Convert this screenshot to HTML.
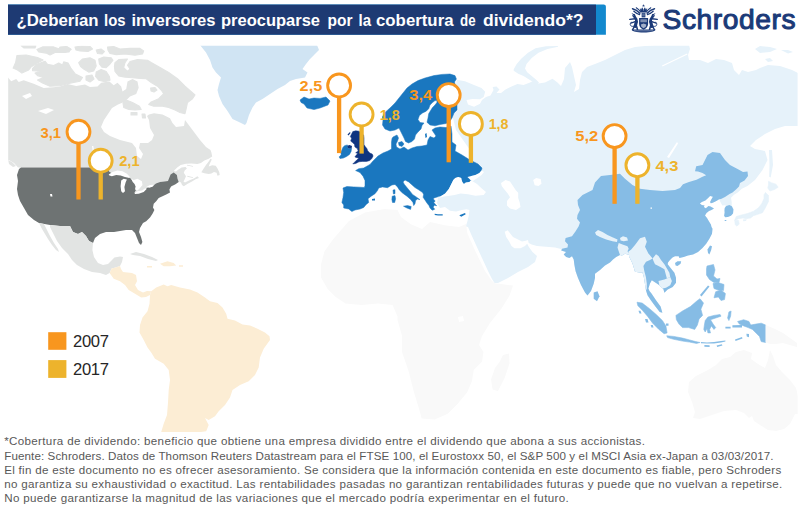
<!DOCTYPE html>
<html lang="es">
<head>
<meta charset="utf-8">
<title>¿Deberían los inversores preocuparse por la cobertura de dividendo*?</title>
<style>
html,body{margin:0;padding:0;background:#fff;}
body{width:800px;height:507px;overflow:hidden;position:relative;font-family:"Liberation Sans",sans-serif;}
svg{position:absolute;left:0;top:0;display:block;}
text{font-family:"Liberation Sans",sans-serif;}
.ml{font-size:15.4px;font-weight:bold;}
.ft{font-size:11.6px;fill:#585858;}
.ttl{font-size:17px;font-weight:bold;fill:#fff;}
.lg{font-size:16.6px;fill:#262626;}
.logo{font-size:28.2px;font-weight:normal;fill:#1b3a78;stroke:#1b3a78;stroke-width:1.05px;stroke-linejoin:round;}
</style>
</head>
<body>
<svg width="800" height="507" viewBox="0 0 800 507">
<defs>
<clipPath id="mapclip"><rect x="8.2" y="45.8" width="789.4" height="386.4"/></clipPath>
</defs>
<rect width="800" height="507" fill="#fff"/>
<g clip-path="url(#mapclip)">
<path fill="#e2e4e3" d="M8,77.5L11.2,81.2L16.2,79L18.7,81.9L23.7,80.2L33.7,83.7L43.7,88.1L53.7,87.2L60,86.5L67.5,84L76.2,85.9L85,84.6L90,87.1L97.5,86.5L101.2,82.7L109.4,81.5L113.7,85.2L117.5,82.7L121.2,86.5L122.5,91.5L126.2,89L127.5,81.5L132.5,79L137.5,81.5L138.7,87.7L136.2,94L130,96.5L127.5,99L124,102L118,104.5L112,108L108,114L104,120L101,127L104,132L110,136L120,140L132,143L136,148L137,156L141,159L143,154L139,148L140,143L148,143L152,140L154,135L150,128L149,120L147,116L149,114.5L154,113.2L162.5,114.5L170,118.2L172.5,123L176,127L184,126L185,120L188,124L194,132L200,140L206,147L210.5,150L211.4,152.6L212.2,156.6L208.7,158.7L204.4,160.5L200.9,163L197.4,164L191.2,163.6L186,163.8L180.7,164.9L177.2,167.5L173.7,171L176,171.5L178.1,169.7L181.6,167.5L185.6,167L186.9,168.5L184.7,170.5L183.8,172.7L186,176.2L184.7,179.3L183.5,181.5L185,182.4L189.5,180.2L193.9,178.4L197.4,176.2L199,178L195.6,179.3L192,181.5L187.7,183.7L183.8,186.3L182,185L181,182.5L179,181.5L176,184L171,187L168,181L160,182L155,185L150,186L146,188L146,190L143,194L134,194L132,185L130,180L109,176L109,167.5L18,167.5L14,163L9,160L8,160Z"/>
<path fill="#e2e4e3" stroke="#e2e4e3" stroke-width="1.1" stroke-linejoin="round" d="M16.9,55.6L26.2,55L37.5,57.5L43.1,60L37.5,63.1L31.2,66.9L28.7,70L21.9,73.1L17.5,70L13.1,68.1L15.6,62.5Z"/>
<path fill="#e2e4e3" stroke="#e2e4e3" stroke-width="1.1" stroke-linejoin="round" d="M32.5,68.7L36.2,64.4L45,61.2L47.5,64.4L53.7,65.6L58.7,63.1L62.5,65L63.7,61.9L68.1,63.1L71.2,68.7L75,73.7L82.5,77.5L80,81.2L70,83.1L60,85.6L50,86.2L42.5,83.1L37.5,80L43.7,77.5L37.5,75.6L35,73.1L41.2,71.2L32.5,70.6Z"/>
<path fill="#e2e4e3" stroke="#e2e4e3" stroke-width="1.1" stroke-linejoin="round" d="M36.9,49.4L42.5,46.9L53.7,46.9L58.7,48.7L67.5,46.9L71.2,49.4L65,52.5L55,52.5L50,55L46.2,53.1L38.7,51.9Z"/>
<path fill="#e2e4e3" stroke="#e2e4e3" stroke-width="1.1" stroke-linejoin="round" d="M21,45.6L36,45.6L35,48L24,48Z"/>
<path fill="#e2e4e3" stroke="#e2e4e3" stroke-width="1.1" stroke-linejoin="round" d="M107.5,47.1L113.7,46.5L120,49L130,48.4L140,48.4L143.7,50.9L142.5,54L135,55.2L125,54L116.2,54.6L110,53.4L108,50.2Z"/>
<path fill="#e2e4e3" stroke="#e2e4e3" stroke-width="1.1" stroke-linejoin="round" d="M75,47L82,46L90,46.5L92.5,49L88,51.5L80,51L76,50Z"/>
<path fill="#e2e4e3" stroke="#e2e4e3" stroke-width="1.1" stroke-linejoin="round" d="M96.2,50L101,49L104.4,51.5L102,54L97.5,53.5Z"/>
<path fill="#e2e4e3" stroke="#e2e4e3" stroke-width="1.1" stroke-linejoin="round" d="M60,47L66,46.5L70.6,49L69,52L62,52.5L58,51Z"/>
<path fill="#e2e4e3" stroke="#e2e4e3" stroke-width="1.1" stroke-linejoin="round" d="M78.7,62.7L82.5,59L90,57.7L95,60.2L96.2,65.9L93.7,70.9L88.7,72.1L83.7,69L80.6,66.5Z"/>
<path fill="#e2e4e3" stroke="#e2e4e3" stroke-width="1.1" stroke-linejoin="round" d="M98.7,59L103.7,57.1L111.2,57.7L113,60.2L110,64L106.2,67.7L101.9,67.1L99.4,64Z"/>
<path fill="#e2e4e3" stroke="#e2e4e3" stroke-width="1.1" stroke-linejoin="round" d="M96.2,72.1L101.2,69.6L106.2,71.5L109.4,76.5L110,80.2L105,81.8L98.7,80.2L95.6,76.5Z"/>
<path fill="#e2e4e3" stroke="#e2e4e3" stroke-width="1.1" stroke-linejoin="round" d="M86,76L92,75L94,79L90,82L86,80Z"/>
<path fill="#e2e4e3" stroke="#e2e4e3" stroke-width="1.1" stroke-linejoin="round" d="M115,62.7L118.7,59.6L127.5,59L125,62.7L123.7,67.7L127.5,71.5L130,69L127.5,65.2L130,61.5L137.5,59.6L147.5,60.2L151.2,62.5L160,67.5L168.7,72.5L177.5,78.7L185,86.2L195,95L192.5,98.7L187.5,102.5L186.2,108.7L185,113.7L180,112.5L175,110L168.7,107.5L162.5,106.2L153.7,106.2L148.7,104.4L151.2,101.9L158.7,98.7L163.7,93.7L161.2,90L157.5,86.2L151.2,82.5L146.2,78.7L140,78.4L132.5,77.7L125,77.1L118.7,75.9L115,71.5L114.4,66.5Z"/>
<path fill="#e2e4e3" stroke="#e2e4e3" stroke-width="1.1" stroke-linejoin="round" d="M123,103L126.2,100L132.5,102.5L139.4,106.2L141.2,109.4L135,110L128.7,109.4L123.7,107.5Z"/>
<path fill="#e2e4e3" stroke="#e2e4e3" stroke-width="1.1" stroke-linejoin="round" d="M131,112.5L137,112.5L137,115L131,115Z"/>
<path fill="#e2e4e3" stroke="#e2e4e3" stroke-width="1.1" stroke-linejoin="round" d="M142,114L145,114L145.5,118L142.5,118Z"/>
<path fill="#e2e4e3" stroke="#e2e4e3" stroke-width="1.1" stroke-linejoin="round" d="M150.6,88L155,87.5L157,90L154,92L151,91Z"/>
<path fill="#e2e4e3" d="M201.3,172.3L203.5,168.8L206,164.9L208.7,161.4L210.5,158.7L211.8,159.6L209.6,164L208.7,166.6L212.2,165.3L215.7,165.7L217.5,168.4L219.2,171.9L219.7,174.9L217.5,175.8L216.6,172.7L214,171.9L211.4,173.6L208.7,174L204.4,173.2Z"/>
<path fill="#e2e4e3" d="M8,160L12,162L16,166L13,167L9,164Z"/>
<path fill="#e2e4e3" d="M187,164.8L193,166L193,166.8L187,165.6Z"/>
<path fill="#e2e4e3" d="M187.3,175.8L193,177.2L193,178L187.3,176.8Z"/>
<path fill="#6e7373" d="M19,169L21,167.6L108,167.6L109,171.5L112,173.5L118,173L124,175.5L129.5,177.5L131.5,179.5L134,182L136,186L136,190L134.5,192.5L138,192.4L142,191.2L146,188.3L150,186.2L153.5,185.5L156,183.5L160,182L168,181L170.6,174.4L173.7,172.5L176.9,175L177.5,178.7L178.7,181.9L175,184.4L171.2,186.2L169.4,189.4L170,192.5L166.2,194.4L162.5,196.2L158.7,198L156.2,201.2L153.7,203.7L153,207.5L154.4,210L152.5,213.7L150,217.5L146.2,221.2L143,223L140,228L139,232L141,237L142.4,242L141,245L139,243L137,238L135,233L132,230L126,230L120,231L114,232L106,232L100,234L95,238L93,243L89,241L86,236L82,232L78,234L73,232L70,226L60,226L50,225L39,223L34,220L28,215L24,208L20,201L18,195L17,189L18,181L17,175Z"/>
<path fill="#e2e4e3" d="M50,225L60,226L70,226L73,232L78,234L82,232L86,236L89,241L93,243L92.4,250L94,257L98,263L103,265L108,264L112,260L114.4,257.6L120,256.6L123,257L122,262L120,266L115.6,267.4L111.6,268.6L109.6,273L106,275L100,273L92,272L84,269L77,265L72,260L68,254L62,248L57,241L53,233L50,227Z"/>
<path fill="#e2e4e3" d="M39,223L44,224L47,230L50,236L54,243L58,249L59,252L56,250L52,245L48,239L45,234L42,229Z"/>
<path fill="#e2e4e3" d="M130,254L136,252L144,254L152,257L158,260L156,261L148,259L140,256L133,255Z"/>
<path fill="#d0e4f3" d="M175,45L200,45L206,52.5L210,60L212.5,67.5L216,72.5L221,77.5L219,84L217.5,90L219,96L222.5,104L227.5,111L232.5,119L240,122.5L245,125L246.5,123L249,115L252.5,107.5L256,102.5L262.5,99L270,94L277.5,89L285,85L290,81L296,79L305,77.5L307.5,72.5L302.5,69L306,64L310,59L315,54L319,50L317,45Z"/>
<path fill="#fcedd4" d="M151.2,291.2L156.2,287.5L163.7,284.5L167.5,286.2L171.2,285L180,287.5L190,289.5L197.5,292.5L205,297.5L210,301.2L217.5,303L222.5,307.5L226.2,313.7L227.5,318.7L235,320.5L242.5,324.5L250,325.5L257.5,328.7L265,332.5L269.5,336.2L270,340L263.7,348.7L260,357.5L258.7,367.5L255,375L248.7,381.2L240,385L232.5,390L230,397.5L225,405L218.7,411.2L215,416.2L208.7,420L205,418L208.7,425L206.2,431.2L201,432L161.2,432L163.7,423.7L167,415L168,402.5L168.7,390L170,380L168.7,370L163.7,363.7L155,358.7L151.2,352.5L147.5,347.5L143.7,340L139.5,332.5L140,325L142.5,317.5L147.5,311.2L149.5,303.7L150,295Z"/>
<path fill="#fcedd4" d="M111.6,268.6L115.6,267.4L120,266L121,269L123,272L132,273L136,275L137,281.2L135,285L138,290L143,292.5L147,291L151.2,291.2L150,295L146,297L141.2,297.5L135,293.7L128.7,290L125,285L120,281.2L113.7,278.7L109.6,273Z"/>
<path fill="#fcedd4" d="M160,263.7L167.5,261.2L173.7,263L176.2,265.5L170,266.2L163.7,266.2Z"/>
<path fill="#fcedd4" d="M179,265.3L183,265.3L183,266.8L179,266.8Z"/>
<path fill="#fcedd4" d="M147,266L152,266L152,267.5L147,267.5Z"/>
<path fill="#e6f2fa" d="M456.7,79.7L465,81.2L474,85L481.5,88L485.2,91.7L483.7,97L480,99.2L472.5,99L466.5,100L468,104.5L474,106.7L480,103.7L482,100L486,97L490.5,95.5L493.5,90L492.7,87L496.5,86.5L499.5,89.5L496.5,93L501,93L505.5,89.5L511.5,86.5L517.5,84L523.5,85L529.5,82.7L534,80.5L538.5,83.5L545,82.5L552.5,78.7L557.5,82.5L561,86L564,79L565,68L570,62L572,67L574,76L576,85L574,92L579,89L580,80L582,72L587,67L595,64L605,60L615,55L625,50L635,47L645,46L655,45L670,45L689,45L690,49L688,55L689,60L700,60L708,63L716,59L724,60L732,63L734,70L739,75L742,70L748,72L756,70L760,68L768,65L780,66L792,70L798,73L798,126L785,126L775,129L765,134L756,140L750,146L755,149L765,151L767.5,160L762.5,170L755,180L747.5,186L741.8,188.7L737.7,192.5L734,194.7L731,197.7L731.7,202L731.7,205.2L733.7,209L733.2,213.5L730.2,215.7L726.5,217.2L724.2,215.7L724.2,211.2L725,207.5L725.7,205.2L722.3,205.5L721.5,204L720.4,202L719.2,199.2L716.8,200.8L714.4,202L712.1,203L710.7,203.3L710.1,202L711.3,199.6L712.9,196.8L710.1,196L708.1,198L705.4,200.4L701.8,202L699.9,203.5L701.8,205.1L704.6,205.5L703.8,207.1L705.8,208.3L708.5,205.9L710.5,206.5L714,208.5L711.5,210L709,211L706.5,213L705,215.4L707,218L708.9,221.3L710.9,224.4L711.5,227L712.5,228.7L712,233.7L709.4,238.7L706.2,243.7L702.5,248L698,252L693,254.4L688,255.6L683.7,257L679.4,258L678.7,256.2L675,256.2L672.5,257.5L670,260L668,262.5L667.7,264.3L671,268.5L674.4,272.7L676,277.7L676,282.7L672.7,287L667.7,289.4L664.4,292.8L663.5,289.4L662.7,288.6L659.3,285.2L656.8,283.6L651.8,280.2L650,283.6L648.4,288.6L649.5,291L651.5,293.5L656.2,300.5L660.6,306.6L662.4,312.7L659.7,311.9L655.4,306.6L651,300.5L647.5,295.2L646,290.5L644.8,283L643.8,277L642.5,272.4L641,272.7L635,271.8L632.5,263.5L629.2,256.8L630,255L625,253.7L622,255.6L620,255L616.2,257L613,259.4L610,262.5L605,265.6L600,270L595,273.7L595,278L593.7,283.7L591,291L587.5,295.5L585,292.5L581,285L578,278L575.6,271.2L574.4,265L573.7,259.4L572,256.2L569.4,258L566.2,256.9L563.7,254.4L566,252L561.2,250.6L562,248.7L561,249L555,247.5L546,246.7L537,246L531.7,244.5L528.7,243L528,240L525.7,240.7L522,241.5L517.5,239.2L513,237L510,233.2L507.7,230.2L504.7,231.7L506.2,237L509.2,241.5L511.5,246L514.5,248.2L520.5,248.2L525,246L527.2,243.7L528.7,246.7L532.5,252L537,256L535,262L528,267L518,272L508,278L498,283L494.5,283L492,279L488,271L482,258L476,245L471,234L468,227L465.7,226.5L467.2,222L468.7,216L469.5,210L466.5,209.2L462,210L456,211.5L450,210.7L445,207L440,208L437,203L438,198L442,196L448,194L452,186L460,176L470,170L470,150L456,130L452,114L455,100L456,85Z"/>
<path fill="#e6f2fa" d="M513.7,69.2L516.7,64L521.2,58.7L528,52.7L535.5,48.2L546,46.3L558,46L558,46.7L547.5,49L538.5,52.7L531.7,58L526.5,64L525,68.5L527.2,72.2L531.7,76L536.2,79.7L539.2,82.7L535.5,83.5L529.5,79.7L523.5,76L518.2,73.7L513.7,70.7Z"/>
<path fill="#e6f2fa" d="M755,49L760,46L770,47L777,49L770,52L760,53Z"/>
<path fill="#e6f2fa" d="M781,50L788,50L793,52L788,53.6Z"/>
<path fill="#e6f2fa" d="M765,59L770,58L773,61L768,62Z"/>
<path fill="#ffffff" d="M662,65.5L687,53.5L687.5,54.5L662.5,66.5Z"/>
<path fill="#e6f2fa" d="M769,150L772,150L773,165L771.5,173L770.7,177.5L769.2,176.7L769.5,165Z"/>
<path fill="#e6f2fa" stroke="#e6f2fa" stroke-width="0.6" stroke-linejoin="round" d="M768.5,181.2L771.5,182.7L776,184.2L778.2,187.2L774.5,189.5L770,191L767.7,188L768.5,185Z"/>
<path fill="#e6f2fa" stroke="#e6f2fa" stroke-width="0.6" stroke-linejoin="round" d="M765.5,192.5L768.5,195.5L768.5,201.5L765.5,207.5L762.5,212.7L758,214.2L753.5,215.7L750.5,218L746,218.7L743,218L738.5,218.7L734.7,220.2L736.2,216.5L741.5,215L747.5,213.5L753.5,211.2L758,208.2L761.7,203.7L764,198.5L764,194.7Z"/>
<path fill="#e6f2fa" stroke="#e6f2fa" stroke-width="0.6" stroke-linejoin="round" d="M734.7,220.2L738.5,220.2L739.2,224L737,226.2L735.2,224.7Z"/>
<path fill="#e6f2fa" d="M743,219.5L746.7,219.2L746,221L743.3,221.3Z"/>
<path fill="#1a77bf" stroke="#1a77bf" stroke-width="0.5" stroke-linejoin="round" d="M343,188L346.9,186.5L353.7,186.9L360,187.2L364.4,187.5L365,185.6L365,180.6L363,176.2L360,172.5L355.6,170.6L358.7,168.7L363.7,168L370,164.4L373,161L378,156L383,153L388,151L391.5,149L391.5,147L391.5,142L392,138.5L393,137L397,135L398.5,138L397.5,141L396,144L396.5,147L400,149L404,147L408,150L412,148L417,146.5L422,146L427,145L428,140L430,136.5L434,138L436,136L434,133L432,130L435,128L440,127L446,127.5L451,126L452,134L452,142L456,145L455,151L462,155L470,160L478,164L482,168L481.5,170L479.4,173L475.4,175L471.4,176L470.9,180.5L469.4,182L465.9,182.6L463.9,184L462.3,182L461.3,178L458.3,177L455.3,178L453.3,180L451.8,183L450.3,186L448.8,189L446.8,191.6L445.2,193.6L442.7,195L440.2,196.4L437.2,197L434.7,197.7L433.2,198.7L435.2,201.2L433.7,202.2L435.2,204.2L436.7,205.7L434.2,205.2L433.2,207.2L434.7,209.2L433.7,209.7L432.2,210.2L430.7,208.7L429.6,207.2L429.1,205.7L427.1,203.2L425.1,200.2L423.1,197.2L423.6,194.6L422.6,192.6L419,190L415,187.6L411,184L408.7,181.9L405,180L403,181.9L404.4,184.4L406.9,187.5L410,191.2L412.5,194.4L416.2,196.9L420,199.7L417.5,199L415.6,200.6L415,203.7L413.7,205.6L413,202.5L410.6,199.4L406.9,196.2L402.5,193L399.4,190L397.5,186.9L395,184.4L391.9,185L387.5,187.7L382.5,186.9L378.7,188L377.5,190.6L375,193.7L371.2,196.2L368,198.7L368.7,202.5L366.2,204.4L363.7,207.5L360,209L355,210L351.9,211.5L348.7,209L343.7,208L343.7,205L341.9,202.5L343,197.5L343.7,192.5Z"/>
<path fill="#1a77bf" stroke="#1a77bf" stroke-width="0.5" stroke-linejoin="round" d="M383,120L382.4,117L385,112.4L390,108L395,103L399,98L403,93L407,88L412,84L418,80.6L425,78L434,75.6L442,74.4L450,74L455,75.6L456.4,79L454.5,82L455.6,86L454.4,92L456,98L457,104L457,110L454,113L452,118L450,121L446.2,123.5L440,124.5L435,125.8L430,125L427,122.3L428,118L428.7,113.7L430.6,110.6L432.5,107.5L435,105L436.9,102.5L437,100.6L435,100.6L432.5,102.5L430,105L428.7,108.7L426.2,111.2L422.5,113L419.4,115.6L418,119.4L420,122.5L424,123L422,125.5L421,129L418,132L415.5,135L414.5,139L412,141.5L408.5,143L405.5,141.5L404,138L402,134L400,130L399,128L395,130L390,131L385,129L382.5,125Z"/>
<path fill="#1a77bf" stroke="#1a77bf" stroke-width="0.5" stroke-linejoin="round" d="M398.5,142.5L402,141.5L404,144L402,146.5L399,145.5Z"/>
<path fill="#1a77bf" d="M425,134L426.5,133L427,137L425.5,138Z"/>
<path fill="#1a77bf" stroke="#1a77bf" stroke-width="0.5" stroke-linejoin="round" d="M300,100L304,97L309,99L314,98L320,98.4L326,97L330,101L328,105L320,108L314,109.6L307,108L304,104L301,102.4Z"/>
<path fill="#1a77bf" stroke="#1a77bf" stroke-width="0.5" stroke-linejoin="round" d="M344.5,145.7L347.4,144.9L347.4,147.4L349.1,148.6L351.6,148.3L351.1,151.5L349.5,154.4L346.6,156.5L343.3,158.1L340,158.5L339.1,156.9L341.2,154.8L340.8,152.3L342,149.8L342.9,147.4Z"/>
<path fill="#1a77bf" stroke="#1a77bf" stroke-width="0.5" stroke-linejoin="round" d="M403.5,206.2L407.5,205.6L411.2,206.5L410.6,209.4L406.9,208Z"/>
<path fill="#1a77bf" stroke="#1a77bf" stroke-width="0.5" stroke-linejoin="round" d="M392.2,196.2L395,195.6L395.6,198.7L394.7,202.5L392.5,202.5L391.9,199.4Z"/>
<path fill="#1a77bf" stroke="#1a77bf" stroke-width="0.5" stroke-linejoin="round" d="M393,190L395,189.7L395,193.7L393.4,194Z"/>
<path fill="#1a77bf" d="M434.7,213.7L438,214.2L442.7,214.2L442.7,215.4L438,215.6L434.7,214.9Z"/>
<path fill="#1a77bf" d="M459.3,215.2L465,213L465.7,214.2L461.2,216.7Z"/>
<path fill="#1a77bf" d="M372,199L375,198.5L375,200.5L372,200.5Z"/>
<path fill="#0f3580" stroke="#0f3580" stroke-width="0.5" stroke-linejoin="round" d="M352.8,131.6L355.7,130.8L359,131.2L361.5,133.3L363.6,135L364,138.2L364,141.5L364,144.5L365.2,146.5L366.9,148.6L367.7,150.7L369.8,153.1L372.2,154L373.1,156L371.8,158.5L369.8,160.6L366.5,161.4L362.3,161.4L359,161.8L355.7,163.5L352.8,163.9L354.5,162.2L356.5,160.2L359,158.1L356.9,157.7L354.9,156.9L356.1,155.2L357.8,153.6L355.7,152.7L358.2,151.1L357.3,148.6L354.9,146.9L354.5,144.5L352.8,142.8L350.7,141.1L351.6,138.2L350.3,136.6L351.6,134.1Z"/>
<path fill="#0f3580" d="M347.5,134.5L350,132L350.5,133L348.5,135.5Z"/>
<path fill="#0f3580" d="M347.4,145.7L349.5,144.9L352,146.1L351.6,148.2L349.1,148.6L347.4,147.4Z"/>
<path fill="#86bce5" d="M577.5,200L582.5,195L592.5,190L595,182.5L601,176L610,175L620,173.7L625,178.7L632.5,185L640,188.7L650,190L662.5,191L675,190L680,188L683,184.2L689,182L696.5,179.7L702.5,176.7L706.2,175.2L702.5,173L698,171.5L695,171.2L696.2,166.2L702.5,165L707.5,155L712.5,152L720,153L725,160L730,165L738.5,169.5L743,172L747.5,171.5L748,176L744.5,180.5L740,183L739,186.5L736,189.5L732.5,192.5L729.5,194L725,197L721,199L719.2,199.2L716.8,200.8L714.4,202L712.1,203L710.7,203.3L710.1,202L711.3,199.6L712.9,196.8L710.1,196L708.1,198L705.4,200.4L701.8,202L699.9,203.5L701.8,205.1L704.6,205.5L703.8,207.1L705.8,208.3L708.5,205.9L710.5,206.5L714,208.5L711.5,210L709,211L706.5,213L705,215.4L707,218L708.9,221.3L710.9,224.4L711.5,227L712.5,228.7L712,233.7L709.4,238.7L706.2,243.7L702.5,248L698,252L693,254.4L688,255.6L683.7,257L679.4,258L678.7,256.2L675,256.2L672.5,257.5L670,260L668,262.5L667.7,264.3L671,268.5L674.4,272.7L676,277.7L676,282.7L672.7,287L667.7,289.4L664.4,292.8L663.5,289.4L662.7,288.6L659.3,285.2L656.8,283.6L651.8,280.2L650,283.6L648.4,288.6L649.5,291L651.5,293.5L656.2,300.5L660.6,306.6L662.4,312.7L659.7,311.9L655.4,306.6L651,300.5L647.5,295.2L646,290.5L644.8,283L643.8,277L642.5,272.4L641,272.7L635,271.8L632.5,263.5L629.2,256.8L630,255L625,253.7L622,255.6L620,255L616.2,257L613,259.4L610,262.5L605,265.6L600,270L595,273.7L595,278L593.7,283.7L591,291L587.5,295.5L585,292.5L581,285L578,278L575.6,271.2L574.4,265L573.7,259.4L572,256.2L569.4,258L566.2,256.9L563.7,254.4L566,252L561.2,250.6L562,248.7L567.5,247.5L568,244.4L565,241.2L565.6,238L572,236.2L575.6,231.2L578.7,226.2L580,222.5L577,218.7L577.5,215L580,210L578,205Z"/>
<path fill="#e6f2fa" d="M635,245L640,238.3L645,236.7L646.8,241.7L645,246.7L648.4,253.4L652.6,258.4L650,260L646,261.8L643.4,266L644.3,271L645.9,276.9L646.8,283.6L646.8,288.6L646,290.5L644.8,283L643.8,277L642.5,272.4L641,272.7L635,271.8L632.5,263.5L629.2,256.8L628.3,251.7L631.2,249.4Z"/>
<path fill="#e6f2fa" d="M652.6,258.4L656,254.3L658.5,256L661,260L664.4,264.3L666.9,268.5L669.4,272.7L670.2,276.9L666.9,278.5L666,275.2L664.4,269.3L660,266.8L655,264.3L653.5,261Z"/>
<path fill="#e6f2fa" d="M658.5,281L664.4,279.4L666.9,278.5L670.2,276.9L671.9,281L670.2,285.2L666,287.8L662.7,288.6L659.3,285.2Z"/>
<path fill="#e6f2fa" d="M618.7,243L622.5,244.4L627.5,246.2L628.7,248.7L627.5,251.2L630,255L625,253.7L622,255.6L620,255L618.7,251.2L617.5,247.5Z"/>
<path fill="#e6f2fa" d="M595,232.5L598,230L602.5,232L607.5,235L613,237.5L617.5,239.4L617,242L612.5,241.2L606.2,239.4L600,237L596.2,235Z"/>
<path fill="#e6f2fa" d="M620,238L623,236.2L627,237.5L628,240.6L623.7,241.2L620.6,240.6Z"/>
<path fill="#86bce5" d="M724.7,207.9L726.3,205.9L729.4,205.1L731.8,206.3L733.4,209.4L733,213.4L731,215.8L727.9,216.9L725.1,217.3L724.1,215.8L724.7,212.6L724.5,210.2Z"/>
<path fill="#86bce5" d="M724.7,220L726.3,220L726.3,221L724.7,221Z"/>
<path fill="#ffffff" d="M650.5,207.5L652,207.5L652,208.7L650.5,208.7Z"/>
<path fill="#86bce5" d="M707.5,249.4L710,245.6L712,246.2L711.2,250L709.4,254.4L708,253Z"/>
<path fill="#86bce5" d="M675,263L677.5,261.2L681.2,261.2L680.6,263.7L677.5,266L675.6,265.6Z"/>
<path fill="#86bce5" d="M593.7,292.5L597.5,291.2L599.5,296.2L597,301.2L593.7,298.7Z"/>
<path fill="#86bce5" stroke="#86bce5" stroke-width="0.6" stroke-linejoin="round" d="M637,302.2L642.2,303.1L649.2,308.4L656.2,314.5L662.4,320.6L665.9,325.9L667.1,332.9L664.1,333.7L658.9,329.4L652.7,323.2L647.5,316.2L642.2,310.1L637.9,305.7Z"/>
<path fill="#86bce5" stroke="#86bce5" stroke-width="0.6" stroke-linejoin="round" d="M666.7,335.8L673.7,336.4L682.5,338.1L689.5,339.9L695.6,341.6L700,342.5L696.5,343.4L689.5,342.1L682.5,341.1L673.7,339.3L667.6,337.6Z"/>
<path fill="#86bce5" d="M700.9,342.1L707,342.5L714,342.1L721,341.1L725.4,340.4L725.4,341.6L721,342.5L714,343.4L707,343.6L700.9,343.2Z"/>
<path fill="#86bce5" d="M704.4,345.1L709.6,345.3L709.6,346.9L704.4,346.7Z"/>
<path fill="#86bce5" d="M716.6,345.6L721.9,344.2L722.4,345.6L717.2,346.9Z"/>
<path fill="#86bce5" stroke="#86bce5" stroke-width="0.6" stroke-linejoin="round" d="M675.9,315.4L682.5,311L690.4,306.6L697.4,300.5L700,298.7L703.5,303.1L700.9,309.2L702.6,315.4L699.1,318.9L697.4,325L694.7,329.4L688.6,327.6L682.5,327.6L679,324.1L676.4,319.7Z"/>
<path fill="#86bce5" stroke="#86bce5" stroke-width="0.6" stroke-linejoin="round" d="M704.4,325L705.2,320.6L707.9,317.1L714,315.4L720.1,314.5L721,316.2L715.7,318L710.5,319.7L713.1,324.1L715.7,327.6L714,329.4L711.4,325.9L709.6,329.4L710.5,332.9L707.9,332.9L707,328.5L705.2,332L703.8,329.4Z"/>
<path fill="#86bce5" stroke="#86bce5" stroke-width="0.6" stroke-linejoin="round" d="M707,266L713.5,264.5L715,270L713.5,276L717,279L720,278.5L719,282.5L714,282.5L709.5,279.5L706.5,275L706.5,269Z"/>
<path fill="#86bce5" stroke="#86bce5" stroke-width="0.6" stroke-linejoin="round" d="M713,283.5L718,282.5L724,284.5L723.5,290.5L718,290L714,288.5Z"/>
<path fill="#86bce5" stroke="#86bce5" stroke-width="0.6" stroke-linejoin="round" d="M715.7,291.7L721,290L725.4,293.5L724.5,299.6L721,300.5L718.4,297L714,297.8Z"/>
<path fill="#86bce5" d="M700,295L708,285.5L709.5,286.5L701.5,296.5Z"/>
<path fill="#86bce5" stroke="#86bce5" stroke-width="0.6" stroke-linejoin="round" d="M728.9,311.9L731.1,311L730.6,316.2L728.9,320.6L727.6,318L728.4,314.5Z"/>
<path fill="#86bce5" d="M732.4,325.2L742,325L742,327.4L732.4,327.6Z"/>
<path fill="#86bce5" d="M735,339.5L742,337L742.5,338.5L735.5,341Z"/>
<path fill="#86bce5" d="M725.4,326.7L730.6,326.7L730.6,328.5L725.4,328.5Z"/>
<path fill="#86bce5" d="M746.4,333.7L749,334L749,337.2L746.8,336.5Z"/>
<path fill="#86bce5" d="M666,323.4L668.5,323.4L668.5,325.8L666,325.8Z"/>
<path fill="#86bce5" d="M638.5,310.7L640.5,310.7L641.5,313.6L639.5,313.6Z"/>
<path fill="#86bce5" d="M645,319L647.5,319L648.5,322.4L646,322.4Z"/>
<path fill="#86bce5" d="M650.7,325L652.8,325L653.5,327.6L651.4,327.6Z"/>
<path fill="#86bce5" stroke="#86bce5" stroke-width="0.6" stroke-linejoin="round" d="M737.6,321.5L743.7,319.7L749,321.5L750.7,325L756,324.1L761.2,323.2L765.6,325L765.6,342.5L761.2,341.6L759.5,336.4L756,332.9L752.5,329.4L748.1,327.6L743.7,325.9L739.4,324.1Z"/>
<path fill="#f9f9f9" d="M765.6,325L775,329L783,333L790,338L797,343L797,347L790,345L783,343L776,344L770,344L765.6,342.5Z"/>
<path fill="#f9f9f9" d="M342,229L349,221L365,212.5L384.5,209L397.5,210L401,217L410.5,224L422,229L430,222L446,225.5L459,227L466,224L467.4,233.6L475.5,251.5L485,271L492,281L495,283.3L513,285.6L509.6,295.4L501.5,308.4L490,323L482,336L479,345L483.5,352L482,361.7L473.7,370L472,381L467,392.6L457.5,404L447.7,413.7L434.7,419.6L421.7,418.6L418.5,407L413.6,391L408.7,371.5L402,352L402,335.7L397.4,319.5L397.5,316.5L392.6,305L378,303.5L361.7,305L345.5,303.5L335.7,297L327.6,289L321,277.5L321,264.5L324.4,251.5L332.5,240Z"/>
<path fill="#f9f9f9" d="M503,355L509,353.6L509.5,363.4L504.6,378L498,391L492.6,389.4L491,379.6L495,368L499.7,361.7Z"/>
<path fill="#f9f9f9" d="M689,382L696,376L708,370L716,365L722,359L730,357L736,352L744,350L752,353L751,359L758,364L765,368L768,360L770,350L773,356L776,365L782,372L790,380L796,388L798,396L798,414L795,414L790,424L784,429L776,431L768,430L760,425L754,421L752,416L749,418L744,413L736,410L724,411L712,415L700,419L693,418L695,412L692,402L688,392Z"/>
<path fill="#ffffff" d="M501,183L505.5,180L510,181.5L513,186L516,190.5L518.2,192.7L518.2,198L519.7,202.5L520.5,207L516,210L510,208.5L507,205.5L507,201L510,197.2L507.7,193.5L504,189L501.7,186Z"/>
<path fill="#ffffff" d="M437.2,197L440.2,196.4L442.7,195L445.2,193.6L446.8,191.6L448.8,189L450.3,186L451.8,183L453.3,180L455.3,178L458.3,177L461.3,178L461.3,179L462.3,182L463.9,184L465.9,182.6L469.4,182L470.9,180.5L473,181.5L477,184L481.5,188.2L486,192L483.7,195L475.5,195.7L468,194.2L460.5,193.5L454.5,195L448,196L444,196.5L440,197.5Z"/>
<path fill="#ffffff" d="M467.4,177L471.4,176L475.4,175L479.4,173L481.5,170.5L484,172L481.5,175L477.4,178L473,181L470.9,180.5L469,178.5Z"/>
<path fill="#ffffff" d="M667,157L677,142L678,143.5L669,158Z"/>
<path fill="#ffffff" d="M533.2,180L536.2,178L540.7,179L541.5,183.7L538.5,186L534.7,185.2Z"/>
<path fill="#ffffff" d="M108.7,174.4L112.5,171.9L117.5,170.6L122.5,171.2L126.9,173.7L130,176.9L129.4,178L125,176.9L120.6,175.6L116.2,175L111.9,176.2L109.4,175.6Z"/>
<path fill="#ffffff" d="M121.2,180.6L123.7,178.7L126.9,179.4L125.6,182.5L124.4,186.9L125,191.2L123,193L121.2,191.2L120.6,186.2Z"/>
<path fill="#ffffff" d="M131.2,178.7L133.7,180L137.5,178.7L141.9,181.2L142.5,185L140,188L137.5,190.6L135,189.4L135.6,186.2L134.4,183.7L132.7,181.9Z"/>
<path fill="#ffffff" d="M134.4,192.7L137.5,191.2L141.9,190.6L145.6,188L146.9,188.7L143.7,191.9L138.7,193.7L135,194Z"/>
<path fill="#ffffff" d="M146.2,186.9L150,185L153.7,184.7L153,186.5L149.4,187.7Z"/>
<path fill="#ffffff" d="M22,96L30,93L32,96L26,99Z"/>
<path fill="#ffffff" d="M38,111L48,108L54,110L46,114Z"/>
<path fill="#ffffff" d="M92,146L93.3,146L94.3,152L93,152.5Z"/>
<path fill="#ffffff" d="M50,194L52,194L52.5,196.5L50.5,196.5Z"/>
<path fill="#ffffff" d="M458,317L463,316L464,321L459,322Z"/>
</g>
<!-- title bar -->
<path d="M8,4.6H603.7a2.2,2.2 0 0 1 2.2,2.2V34.7H8Z" fill="#1389ce"/>
<rect x="8" y="4.6" width="588" height="30.1" fill="#1e3a73"/>
<text x="16.50" y="26.3" textLength="82.00" lengthAdjust="spacingAndGlyphs" class="ttl">¿Deberían</text><text x="104.00" y="26.3" textLength="21.57" lengthAdjust="spacingAndGlyphs" class="ttl">los</text><text x="131.50" y="26.3" textLength="84.00" lengthAdjust="spacingAndGlyphs" class="ttl">inversores</text><text x="221.00" y="26.3" textLength="99.00" lengthAdjust="spacingAndGlyphs" class="ttl">preocuparse</text><text x="327.50" y="26.3" textLength="25.00" lengthAdjust="spacingAndGlyphs" class="ttl">por</text><text x="358.50" y="26.3" textLength="12.54" lengthAdjust="spacingAndGlyphs" class="ttl">la</text><text x="376.00" y="26.3" textLength="77.53" lengthAdjust="spacingAndGlyphs" class="ttl">cobertura</text><text x="460.00" y="26.3" textLength="15.53" lengthAdjust="spacingAndGlyphs" class="ttl">de</text><text x="483.00" y="26.3" textLength="100.50" lengthAdjust="spacingAndGlyphs" class="ttl">dividendo*?</text>
<!-- logo -->
<g transform="translate(622,0) scale(0.07496)" fill="#1b3a78" stroke="none">
<!-- star + crown -->
<path d="M287,54 L292,69 L307,69 L295,78 L300,93 L287,84 L274,93 L279,78 L267,69 L282,69Z"/>
<path d="M238,102 L254,130 L268,98 L287,126 L306,98 L320,130 L336,102 L328,166 L246,166Z"/>
<path d="M262,172 H312 V232 H262Z"/>
<!-- mantling (feathered) -->
<g fill="none" stroke="#1b3a78" stroke-linecap="round">
<path d="M238,176 C214,150 186,128 140,116" stroke-width="19"/>
<path d="M236,196 C208,188 182,172 158,150" stroke-width="16"/>
<path d="M246,158 C232,134 214,118 190,104" stroke-width="14"/>
<path d="M336,176 C360,150 388,128 434,116" stroke-width="19"/>
<path d="M338,196 C366,188 392,172 416,150" stroke-width="16"/>
<path d="M328,158 C342,134 360,118 384,104" stroke-width="14"/>
</g>
<!-- supporters -->
<g>
<ellipse cx="158" cy="206" rx="20" ry="21"/>
<path d="M140,190 l-14,-14 l22,4Z"/>
<g fill="none" stroke="#1b3a78" stroke-linecap="round">
<path d="M168,224 C186,244 196,262 194,290" stroke-width="36"/>
<path d="M190,290 C188,316 180,334 176,352" stroke-width="42"/>
<path d="M172,250 L104,258" stroke-width="19"/>
<path d="M176,288 L118,308" stroke-width="17"/>
<path d="M194,348 L206,394" stroke-width="21"/>
<path d="M166,352 L142,394" stroke-width="19"/>
<path d="M158,350 C112,366 92,318 124,298" stroke-width="12"/>
</g>
</g>
<g transform="translate(574,0) scale(-1,1)">
<ellipse cx="158" cy="206" rx="20" ry="21"/>
<path d="M140,190 l-14,-14 l22,4Z"/>
<g fill="none" stroke="#1b3a78" stroke-linecap="round">
<path d="M168,224 C186,244 196,262 194,290" stroke-width="36"/>
<path d="M190,290 C188,316 180,334 176,352" stroke-width="42"/>
<path d="M172,250 L104,258" stroke-width="19"/>
<path d="M176,288 L118,308" stroke-width="17"/>
<path d="M194,348 L206,394" stroke-width="21"/>
<path d="M166,352 L142,394" stroke-width="19"/>
<path d="M158,350 C112,366 92,318 124,298" stroke-width="12"/>
</g>
</g>
<!-- shield -->
<path d="M228,240 H348 V318 C348,358 320,384 288,396 C256,384 228,358 228,318Z"/>
<!-- base -->
<path d="M128,394 H448 C444,420 384,434 288,434 C192,434 132,420 128,394Z"/>
<!-- light details -->
<g fill="#fff">
<path d="M246,258 H330 V296 H246Z" opacity="0.55"/>
<path d="M254,260 v34 M266,260 v34 M278,260 v34 M290,260 v34 M302,260 v34 M314,260 v34" stroke="#1b3a78" stroke-width="5" opacity="0.5"/>
<path d="M252,326 L288,312 L324,326 L318,356 L288,378 L258,356Z" opacity="0.6"/>
<path d="M282,102 h10 v40 h-10Z" opacity="0.5"/>
<path d="M160,408 H416 v8 H160Z" opacity="0.6"/>
<path d="M270,182 h34 v12 h-34Z" opacity="0.5"/>
<path d="M270,206 h34 v10 h-34Z" opacity="0.5"/>
<circle cx="154" cy="204" r="5" opacity="0.7"/>
<circle cx="420" cy="204" r="5" opacity="0.7"/>
</g>
</g>

<text x="662.6" y="29.2" textLength="133" lengthAdjust="spacing" class="logo">Schroders</text>
<!-- markers -->
<rect x="76.35" y="131.75" width="4.3" height="67.75" fill="#f8961e"/>
<circle cx="78.5" cy="131.75" r="11.45" fill="#fff" stroke="#f8961e" stroke-width="2.9"/>
<text id="ml0" x="40.40" y="137.7" textLength="20.60" lengthAdjust="spacingAndGlyphs" fill="#f8961e" class="ml">3,1</text>
<rect x="98.55" y="160.75" width="4.3" height="38.75" fill="#edb32c"/>
<circle cx="100.7" cy="160.75" r="11.45" fill="#fff" stroke="#edb32c" stroke-width="2.9"/>
<text id="ml1" x="119.20" y="165.8" textLength="20.40" lengthAdjust="spacingAndGlyphs" fill="#edb32c" class="ml">2,1</text>
<rect x="336.95" y="85.4" width="4.3" height="67.7" fill="#f8961e"/>
<circle cx="339.1" cy="85.4" r="11.45" fill="#fff" stroke="#f8961e" stroke-width="2.9"/>
<text id="ml2" x="299.60" y="90.8" textLength="22.60" lengthAdjust="spacingAndGlyphs" fill="#f8961e" class="ml">2,5</text>
<rect x="359.45" y="114.5" width="4.3" height="39.1" fill="#edb32c"/>
<circle cx="361.6" cy="114.5" r="11.45" fill="#fff" stroke="#edb32c" stroke-width="2.9"/>
<text id="ml3" x="379.70" y="119.7" textLength="20.00" lengthAdjust="spacingAndGlyphs" fill="#edb32c" class="ml">1,8</text>
<rect x="446.55" y="95.1" width="4.3" height="67.2" fill="#f8961e"/>
<circle cx="448.7" cy="95.1" r="11.45" fill="#fff" stroke="#f8961e" stroke-width="2.9"/>
<text id="ml4" x="409.30" y="100.2" textLength="23.00" lengthAdjust="spacingAndGlyphs" fill="#f8961e" class="ml">3,4</text>
<rect x="468.75" y="123.9" width="4.3" height="38.9" fill="#edb32c"/>
<circle cx="470.9" cy="123.9" r="11.45" fill="#fff" stroke="#edb32c" stroke-width="2.9"/>
<text id="ml5" x="488.70" y="129" textLength="19.80" lengthAdjust="spacingAndGlyphs" fill="#edb32c" class="ml">1,8</text>
<rect x="612.45" y="136.05" width="4.3" height="67.75" fill="#f8961e"/>
<circle cx="614.6" cy="136.05" r="11.45" fill="#fff" stroke="#f8961e" stroke-width="2.9"/>
<text id="ml6" x="575.30" y="141.4" textLength="23.00" lengthAdjust="spacingAndGlyphs" fill="#f8961e" class="ml">5,2</text>
<rect x="635.25" y="165.2" width="4.3" height="38.6" fill="#edb32c"/>
<circle cx="637.4" cy="165.2" r="11.45" fill="#fff" stroke="#edb32c" stroke-width="2.9"/>
<text id="ml7" x="655.40" y="171" textLength="23.00" lengthAdjust="spacingAndGlyphs" fill="#edb32c" class="ml">4,3</text>
<!-- legend -->
<rect x="48.2" y="332.2" width="18.2" height="17.6" fill="#f8961e"/>
<rect x="48.2" y="360.1" width="18.2" height="17.8" fill="#edb32c"/>
<text x="73" y="347.1" textLength="36" lengthAdjust="spacing" class="lg">2007</text>
<text x="73" y="374.9" textLength="36" lengthAdjust="spacing" class="lg">2017</text>
<!-- footer -->
<text x="4.2" y="445.3" textLength="640.7" lengthAdjust="spacing" class="ft">*Cobertura de dividendo: beneficio que obtiene una empresa dividido entre el dividendo que abona a sus accionistas.</text>
<text x="4.2" y="459.6" textLength="769.4" lengthAdjust="spacing" class="ft">Fuente: Schroders. Datos de Thomson Reuters Datastream para el FTSE 100, el Eurostoxx 50, el S&amp;P 500 y el MSCI Asia ex-Japan a 03/03/2017.</text>
<text x="4.2" y="473.8" textLength="777.1" lengthAdjust="spacing" class="ft">El fin de este documento no es ofrecer asesoramiento. Se considera que la información contenida en este documento es fiable, pero Schroders</text>
<text x="4.2" y="488" textLength="778.1" lengthAdjust="spacing" class="ft">no garantiza su exhaustividad o exactitud. Las rentabilidades pasadas no garantizan rentabilidades futuras y puede que no vuelvan a repetirse.</text>
<text x="4.2" y="502.2" textLength="564.5" lengthAdjust="spacing" class="ft">No puede garantizarse la magnitud de las variaciones que el mercado podría experimentar en el futuro.</text>
</svg>
</body>
</html>
